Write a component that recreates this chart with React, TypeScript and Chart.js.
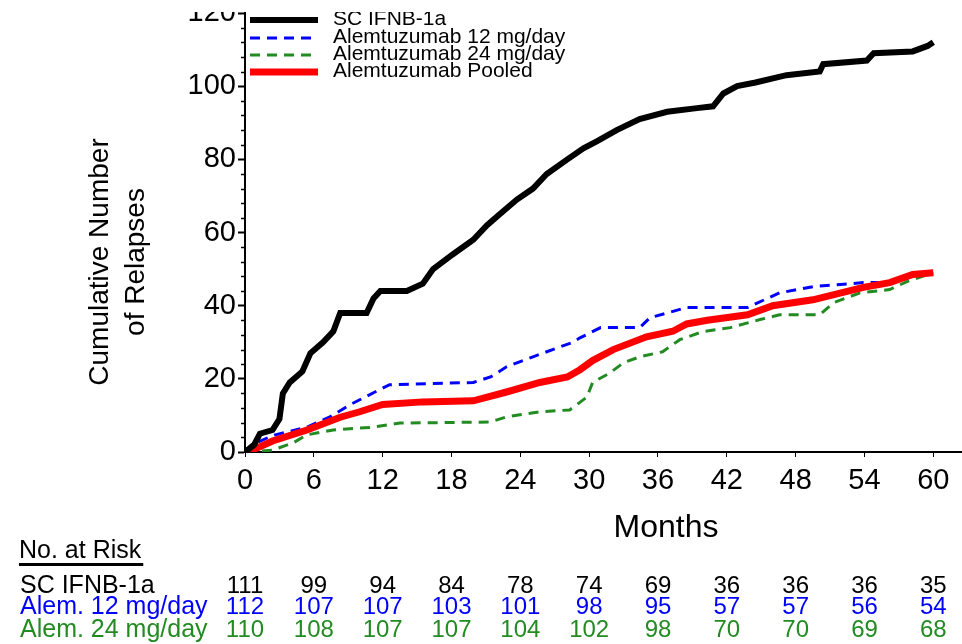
import { useEffect, useRef } from "react";
import { Chart, registerables } from "chart.js";

Chart.register(...registerables);

// ---------- data ----------
const ifnbMonths = [0, 0.8, 1.3, 2.4, 3.0, 3.3, 3.9, 5.0, 5.7, 6.8, 7.7, 8.3, 10.6, 11.2, 11.8, 14.1, 15.5, 16.4, 18.1, 19.9, 21.1, 22.2, 23.7, 25.1, 26.3, 28.1, 29.5, 30.7, 32.4, 34.4, 36.8, 39.4, 40.8, 41.7, 42.9, 44.5, 47.2, 50.1, 50.4, 54.2, 54.8, 58.2, 59.5, 60];
const ifnbCounts = [0, 2, 5, 6, 9, 16, 19, 22, 27, 30, 33, 38, 38, 42, 44, 44, 46, 50, 54, 58, 62, 65, 69, 72, 76, 80, 83, 85, 88, 91, 93, 94, 94.5, 98, 100, 101, 103, 104, 106, 107, 109, 109.5, 111, 112];

const alem12Months = [0, 1, 2.4, 5.4, 7.4, 9.2, 11.2, 12.6, 19.9, 21.4, 22.8, 25.1, 27.5, 28.6, 29.2, 31, 34.4, 35.3, 38.5, 43.8, 46.6, 49.5, 53.9, 56.5, 58.2, 60];
const alem12Counts = [0, 2.5, 4.5, 6.8, 9.6, 13, 16.2, 18.4, 19, 20.5, 23.3, 26, 28.8, 30, 31.2, 34, 34, 36.7, 39.5, 39.5, 43.5, 45.2, 46.3, 46.3, 48, 49];

const alem24Months = [0, 2.4, 4.2, 5.4, 7.7, 11.2, 13.5, 21.4, 22.8, 25.7, 28.3, 29.8, 30.3, 31.8, 33, 34.4, 36.4, 37.9, 39.9, 42.3, 44.9, 46.6, 50.1, 51.3, 53.6, 56.2, 57.7, 60];
const alem24Counts = [0, 0.5, 2.5, 4.7, 6, 6.8, 7.9, 8.2, 9.6, 11, 11.5, 15, 19, 21.6, 24.4, 26, 27.4, 30.7, 32.9, 34, 36.2, 37.5, 37.5, 40.8, 43.5, 44.4, 46.6, 49];

const pooledMonths = [0, 1, 2.4, 5.4, 8.3, 10, 12, 15.5, 19.9, 22.8, 25.7, 28.1, 29.2, 30.3, 32.1, 35, 37.3, 38.5, 40.3, 43.8, 46, 49.5, 53.9, 56.2, 58.2, 60];
const pooledCounts = [0, 1, 3, 6, 9.5, 11, 13, 13.7, 14, 16.4, 19, 20.5, 22.5, 25, 28, 31.5, 33, 35, 36, 37.5, 40, 41.6, 45, 46.3, 48.5, 49];

const seriesLabels = ["SC IFNB-1a", "Alemtuzumab 12 mg/day", "Alemtuzumab 24 mg/day", "Alemtuzumab Pooled"];

const xTickMonths = [0, 6, 12, 18, 24, 30, 36, 42, 48, 54, 60];
const yTickValues = [0, 20, 40, 60, 80, 100, 120];
const yMinorStep = 4;

const riskTitle = "No. at Risk";
const riskRowLabels = ["SC IFNB-1a", "Alem. 12 mg/day", "Alem. 24 mg/day"];
const riskIfnb = [111, 99, 94, 84, 78, 74, 69, 36, 36, 36, 35];
const riskAlem12 = [112, 107, 107, 103, 101, 98, 95, 57, 57, 56, 54];
const riskAlem24 = [110, 108, 107, 107, 104, 102, 98, 70, 70, 69, 68];

const xTitle = "Months";
const yTitleLines = ["Cumulative Number", "of Relapses"];

// ---------- styling ----------
const FONT = "'Liberation Sans', Arial, sans-serif";
const BLACK = "#000000";
const BLUE = "#0000ff";
const GREEN = "#228b22";
const RED = "#ff0000";
const CANVAS_TOP = 12; // page offset of the canvas

const toPts = (xs: number[], ys: number[]) => xs.map((x, i) => ({ x, y: ys[i] }));

const overlayPlugin = {
  id: "overlay",
  afterDraw(chart: any) {
    const ctx: CanvasRenderingContext2D = chart.ctx;
    const xs = chart.scales.x;
    const ys = chart.scales.y;
    const area = chart.chartArea;
    const P = (pageY: number) => pageY - CANVAS_TOP;

    ctx.save();
    // minor y ticks
    ctx.strokeStyle = BLACK;
    ctx.lineWidth = 1.5;
    for (let v = 0; v <= 120; v += yMinorStep) {
      if (v % 20 === 0) continue;
      const y = Math.round(ys.getPixelForValue(v)) + 0.5;
      ctx.beginPath();
      ctx.moveTo(area.left - 4, y);
      ctx.lineTo(area.left, y);
      ctx.stroke();
    }

    // legend
    const ds = chart.data.datasets;
    const legRows = [P(20), P(38), P(55), P(72)];
    ctx.font = `21px ${FONT}`;
    ctx.textBaseline = "middle";
    ctx.textAlign = "left";
    seriesLabels.forEach((lab, i) => {
      const d = ds[i];
      ctx.save();
      ctx.strokeStyle = d.borderColor;
      ctx.lineWidth = d.borderWidth;
      ctx.setLineDash(d.borderDash || []);
      ctx.beginPath();
      ctx.moveTo(area.left + 5, legRows[i]);
      ctx.lineTo(area.left + 73, legRows[i]);
      ctx.stroke();
      ctx.restore();
      ctx.fillStyle = BLACK;
      ctx.fillText(lab, area.left + 88, legRows[i] - 1);
    });

    // axis titles
    ctx.fillStyle = BLACK;
    ctx.font = `32px ${FONT}`;
    ctx.textAlign = "center";
    ctx.textBaseline = "middle";
    ctx.fillText(xTitle, 666, P(528));
    ctx.save();
    ctx.font = `28px ${FONT}`;
    ctx.translate(100, P(262));
    ctx.rotate(-Math.PI / 2);
    ctx.fillText(yTitleLines[0], 0, 0);
    ctx.fillText(yTitleLines[1], 0, 36);
    ctx.restore();

    // at-risk table
    ctx.font = `25px ${FONT}`;
    ctx.textAlign = "left";
    ctx.textBaseline = "alphabetic";
    ctx.fillStyle = BLACK;
    ctx.fillText(riskTitle, 19, P(558));
    const w = ctx.measureText(riskTitle).width;
    ctx.fillRect(19, P(563), w + 2, 3);

    const rows = [riskIfnb, riskAlem12, riskAlem24];
    const colors = [BLACK, BLUE, GREEN];
    const baselines = [P(593), P(614), P(637)];
    rows.forEach((vals, r) => {
      ctx.fillStyle = colors[r];
      ctx.font = `25px ${FONT}`;
      ctx.textAlign = "left";
      ctx.fillText(riskRowLabels[r], 20, baselines[r]);
      ctx.font = `24px ${FONT}`;
      ctx.textAlign = "center";
      vals.forEach((v, i) => {
        ctx.fillText(String(v), xs.getPixelForValue(xTickMonths[i]), baselines[r]);
      });
    });
    ctx.restore();
  },
};

export default function App() {
  const ref = useRef<HTMLCanvasElement | null>(null);

  useEffect(() => {
    if (!ref.current) return;
    const chart = new Chart(ref.current, {
      type: "line",
      data: {
        datasets: [
          {
            label: seriesLabels[0],
            data: toPts(ifnbMonths, ifnbCounts),
            borderColor: BLACK,
            borderWidth: 6,
            pointRadius: 0,
            tension: 0,
            order: 0,
          },
          {
            label: seriesLabels[1],
            data: toPts(alem12Months, alem12Counts),
            borderColor: BLUE,
            borderWidth: 3,
            borderDash: [10, 7],
            pointRadius: 0,
            tension: 0,
            order: 2,
          },
          {
            label: seriesLabels[2],
            data: toPts(alem24Months, alem24Counts),
            borderColor: GREEN,
            borderWidth: 3,
            borderDash: [10, 7],
            pointRadius: 0,
            tension: 0,
            order: 3,
          },
          {
            label: seriesLabels[3],
            data: toPts(pooledMonths, pooledCounts),
            borderColor: RED,
            borderWidth: 7,
            pointRadius: 0,
            tension: 0,
            order: 1,
          },
        ],
      },
      options: {
        responsive: false,
        animation: false,
        devicePixelRatio: 1,
        layout: { padding: { top: 1, left: 0, right: 0, bottom: 0 } },
        plugins: { legend: { display: false }, tooltip: { enabled: false } },
        scales: {
          x: {
            type: "linear",
            min: 0,
            max: 62.5,
            afterBuildTicks: (s: any) => {
              s.ticks = xTickMonths.map((v) => ({ value: v }));
            },
            afterFit: (s: any) => {
              s.height = 192;
              s.paddingLeft = 0;
              s.paddingRight = 0;
            },
            ticks: {
              font: { family: FONT, size: 29 },
              color: BLACK,
              padding: 7,
              maxRotation: 0,
              autoSkip: false,
            },
            grid: { drawOnChartArea: false, drawTicks: true, tickLength: 5, tickColor: BLACK, tickWidth: 1 },
            border: { display: true, color: BLACK, width: 2 },
          },
          y: {
            type: "linear",
            min: 0,
            max: 120,
            afterBuildTicks: (s: any) => {
              s.ticks = yTickValues.map((v) => ({ value: v }));
            },
            afterFit: (s: any) => {
              s.width = 245;
              s.paddingTop = 0;
              s.paddingBottom = 0;
            },
            ticks: {
              font: { family: FONT, size: 29 },
              color: BLACK,
              padding: 2,
            },
            grid: { drawOnChartArea: false, drawTicks: true, tickLength: 7, tickColor: BLACK, tickWidth: 2 },
            border: { display: true, color: BLACK, width: 2 },
          },
        },
      },
      plugins: [overlayPlugin],
    });
    return () => chart.destroy();
  }, []);

  return (
    <div style={{ position: "absolute", left: 0, top: CANVAS_TOP, width: 962, height: 632, background: "#fff" }}>
      <canvas ref={ref} width={962} height={632} style={{ display: "block", width: 962, height: 632 }} />
    </div>
  );
}
